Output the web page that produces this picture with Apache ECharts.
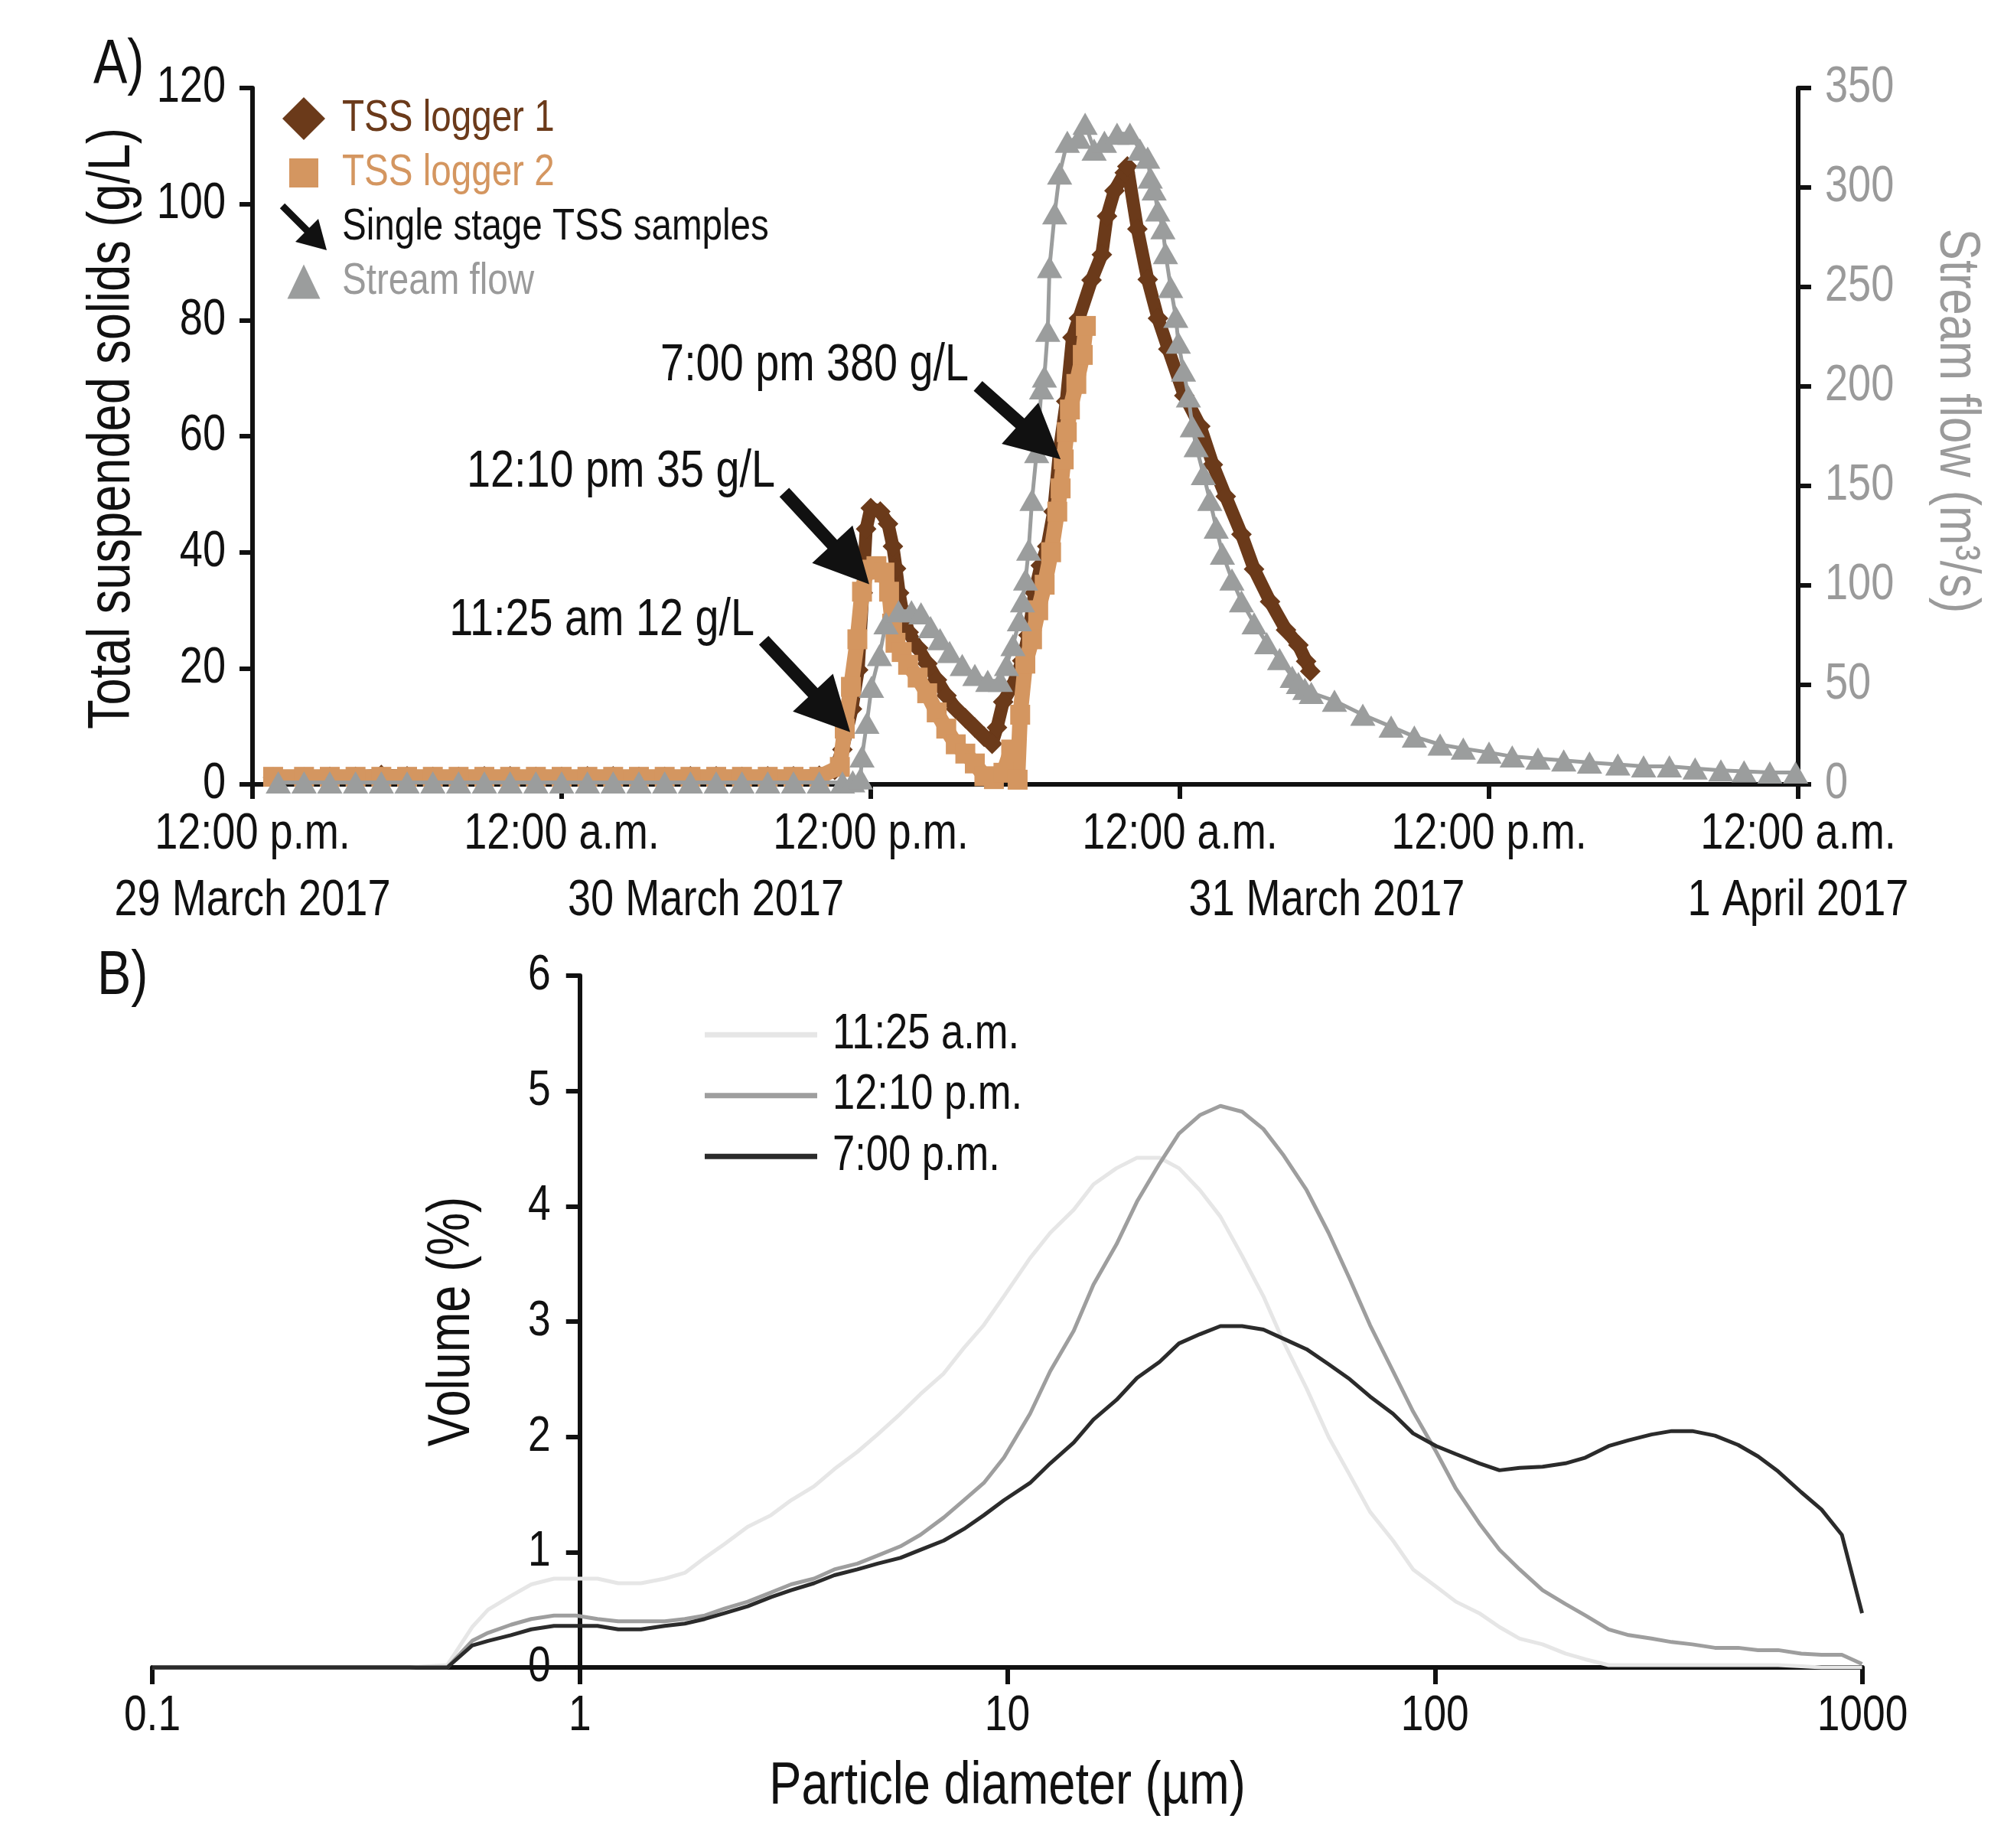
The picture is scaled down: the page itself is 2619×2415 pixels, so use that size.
<!DOCTYPE html>
<html><head><meta charset="utf-8">
<script src="https://cdn.jsdelivr.net/npm/echarts@6/dist/echarts.min.js"></script>
<style>html,body{margin:0;padding:0;background:#fff;}#chart{width:2619px;height:2415px;}</style>
</head><body><div id="chart"></div>
<script>
// ---------------- Panel A data (hours after 12:00 p.m. 29 March 2017) ----------------
const timeTickLabels = ['12:00 p.m.', '12:00 a.m.', '12:00 p.m.', '12:00 a.m.', '12:00 p.m.', '12:00 a.m.'];
const dateLabels = ['29 March 2017', '30 March 2017', '31 March 2017', '1 April 2017'];
const dateLabelHours = [0, 17.6, 41.7, 60];

const logger1Hours = [0.8, 2, 3, 4, 5, 6, 7, 8, 9, 10, 11, 12, 13, 14, 15, 16, 17, 18, 19, 20, 21, 22,
  22.6, 22.9, 23.27, 23.51, 23.69, 23.82, 24.0,
  24.37, 24.67, 24.86, 24.98, 25.1, 25.22, 25.47, 25.84, 26.2, 26.57,
  26.94, 27.3, 27.67, 28.04, 28.4, 28.71, 28.9, 29.14, 29.5, 29.88,
  30.12, 30.36, 30.6, 30.85, 31.1, 31.34, 31.59, 31.83, 32.08, 32.57,
  32.97, 33.17, 33.46, 33.86, 33.96, 34.35, 34.75, 35.15, 35.55, 36.17,
  36.79, 37.28, 37.78, 38.39, 38.88, 39.5, 40.12, 40.6, 40.9, 41.06];
const logger1TSS = [1.2, 1.2, 1.3, 1.3, 1.6, 1.4, 1.3, 1.3, 1.4, 1.4, 1.3, 1.3, 1.4, 1.4, 1.3, 1.3, 1.4, 1.4, 1.3, 1.4, 1.4, 1.5,
  2.5, 6, 13, 19.7, 33, 44, 47.6,
  47, 44.9, 41, 37.2, 33, 30, 26.2, 23.5, 20.8, 18,
  15.3, 13, 11.4, 9.8, 8.2, 7, 9.8, 14.2, 17, 21.3,
  25.7, 33, 37.7, 41, 47, 58, 66, 77, 80.3, 86.9,
  91.3, 97.9, 102.3, 105.4, 106.5, 95.7, 87, 80.3, 75, 67,
  61.7, 55.1, 49.6, 43.1, 37.1, 31.5, 26.6, 24, 21.2, 19.5];

const logger2Hours = [0.8, 2, 3, 4, 5, 6, 7, 8, 9, 10, 11, 12, 13, 14, 15, 16, 17, 18, 19, 20, 21, 22,
  22.8, 22.99, 23.23, 23.48, 23.66, 23.85, 24.22, 24.53, 24.71, 24.83,
  24.96, 25.2, 25.45, 25.82, 26.19, 26.56, 26.93, 27.3, 27.67, 28.04,
  28.41, 28.78, 29.15, 29.45, 29.7, 29.8, 30.0, 30.26, 30.5, 30.75,
  31.0, 31.24, 31.37, 31.49, 31.61, 31.73, 31.98, 32.23, 32.35];
const logger2TSS = [1.3, 1.3, 1.3, 1.3, 1.3, 1.3, 1.3, 1.3, 1.3, 1.3, 1.3, 1.3, 1.3, 1.3, 1.3, 1.3, 1.3, 1.3, 1.3, 1.3, 1.3, 1.3,
  3, 9.6, 16.8, 25, 33.2, 37, 37.6, 36.5, 33.2, 27.7,
  24.4, 22.8, 20.6, 18.4, 15.7, 12.4, 9.6, 6.9, 5.3, 3.6,
  1.4, 0.9, 2.0, 6, 0.8, 12, 20.8, 25, 30, 34.4,
  40, 47, 51, 56, 60.7, 64.6, 69, 74, 79];

const flowHours = [1, 2, 3, 4, 5, 6, 7, 8, 9, 10, 11, 12, 13, 14, 15, 16, 17, 18, 19, 20, 21, 22,
  22.9, 23.3, 23.6, 23.66, 23.85, 24.03, 24.34, 24.59, 25.08, 25.58,
  25.95, 26.32, 26.69, 27.06, 27.55, 28.04, 28.54, 29.03, 29.27, 29.52,
  29.77, 29.89, 30.01, 30.13, 30.26, 30.44, 30.63, 30.74, 30.87, 30.94,
  31.14, 31.33, 31.63, 32.08, 32.32, 32.67, 33.07, 33.56, 34.06, 34.45,
  34.75, 34.85, 35.0, 35.14, 35.34, 35.44, 35.64, 35.84, 35.94, 36.14,
  36.33, 36.48, 36.63, 36.91, 37.16, 37.41, 37.65, 38.02, 38.39, 38.88,
  39.37, 39.87, 40.36, 40.6, 40.85, 41.1, 42.0, 43.1, 44.2, 45.1,
  46.1, 47.0, 48.0, 48.9, 49.9, 50.9, 51.9, 53.0, 54.0, 55.0,
  56.0, 57.0, 57.9, 58.9, 59.9];
const flowValues = [1, 1, 1, 1, 1, 1, 1, 1, 1, 1, 1, 1, 1, 1, 1, 1, 1, 1, 1, 1, 1, 1,
  1, 1.5, 3, 14, 31, 49, 65, 81, 87, 87,
  86, 79, 73, 66.5, 60, 55, 52, 52, 60, 70,
  82.5, 92, 103, 118, 143, 167, 199, 205, 228, 260,
  287, 307, 323, 325, 332, 319, 323, 327, 327, 319,
  315, 305, 299, 288.5, 279.5, 267, 250, 235, 222, 208,
  195, 180, 170, 156, 143, 129, 116, 103, 92, 81,
  71, 63, 54, 51, 48, 46, 42, 35, 29, 24,
  20, 18, 16, 14, 13, 12, 11, 10, 9, 9,
  8, 7, 6.5, 6, 6];

const sampleLabels = ['11:25 am 12 g/L', '12:10 pm 35 g/L', '7:00 pm 380 g/L'];
const sampleHours = [23.2, 23.94, 31.37];
const sampleTSS = [9, 34.5, 56];

// ---------------- Panel B data ----------------
const particleDiameters = [0.1, 0.2, 0.3, 0.4, 0.49, 0.56, 0.61, 0.69, 0.77, 0.87,
  0.98, 1.1, 1.23, 1.39, 1.58, 1.76, 1.96, 2.18, 2.47, 2.8,
  3.12, 3.53, 3.94, 4.46, 4.97, 5.62, 6.26, 7.1, 7.91, 8.81,
  9.82, 11.3, 12.6, 14.3, 15.9, 18.0, 20.1, 22.7, 25.2, 28.2,
  31.5, 35.4, 39.7, 44.3, 50.1, 56.4, 63.2, 70.5, 79.8, 88.9,
  100.7, 112, 127, 141.6, 157.8, 178.6, 202, 225, 255, 284,
  321, 358, 400, 452, 512, 570, 635, 719, 802, 895, 998];
const volume1125 = [0, 0, 0, 0, 0.02, 0.35, 0.5, 0.62, 0.72, 0.77,
  0.77, 0.77, 0.73, 0.73, 0.77, 0.82, 0.95, 1.07, 1.22, 1.32,
  1.45, 1.57, 1.72, 1.87, 2.02, 2.2, 2.37, 2.55, 2.77, 2.97,
  3.22, 3.55, 3.77, 3.97, 4.19, 4.33, 4.42, 4.42, 4.33, 4.14,
  3.91, 3.57, 3.22, 2.82, 2.42, 2.0, 1.67, 1.35, 1.1, 0.85,
  0.70, 0.57, 0.47, 0.35, 0.25, 0.2, 0.12, 0.07, 0.02, 0.02,
  0.02, 0.02, 0.02, 0.02, 0.02, 0.02, 0.02, 0.01, 0, 0, 0];
const volume1210 = [0, 0, 0, 0, 0, 0.23, 0.3, 0.37, 0.42, 0.45,
  0.45, 0.42, 0.4, 0.4, 0.4, 0.42, 0.45, 0.51, 0.57, 0.65,
  0.72, 0.77, 0.85, 0.9, 0.97, 1.05, 1.15, 1.3, 1.45, 1.6,
  1.82, 2.2, 2.57, 2.92, 3.32, 3.67, 4.04, 4.37, 4.63, 4.79,
  4.87, 4.82, 4.67, 4.44, 4.14, 3.77, 3.37, 2.97, 2.57, 2.22,
  1.87, 1.55, 1.25, 1.02, 0.85, 0.67, 0.55, 0.45, 0.33, 0.28,
  0.25, 0.22, 0.2, 0.17, 0.17, 0.15, 0.15, 0.12, 0.11, 0.11, 0.03];
const volume1900 = [0, 0, 0, 0, 0, 0.19, 0.23, 0.28, 0.33, 0.36,
  0.36, 0.36, 0.33, 0.33, 0.36, 0.38, 0.42, 0.47, 0.53, 0.61,
  0.67, 0.73, 0.8, 0.85, 0.9, 0.95, 1.02, 1.1, 1.2, 1.32,
  1.45, 1.6, 1.77, 1.95, 2.15, 2.32, 2.51, 2.65, 2.81, 2.89,
  2.96, 2.96, 2.93, 2.85, 2.76, 2.63, 2.5, 2.35, 2.2, 2.03,
  1.92, 1.85, 1.77, 1.71, 1.73, 1.74, 1.77, 1.82, 1.92, 1.97,
  2.02, 2.05, 2.05, 2.01, 1.93, 1.83, 1.7, 1.52, 1.37, 1.15, 0.47];
const diameterTickLabels = ['0.1', '1', '10', '100', '1000'];

// ---------------- condensed text emulation (reference uses a narrow sans font) ----------------
const TEXT_SX = 0.82;
(function () {
  const proto = CanvasRenderingContext2D.prototype;
  const oFill = proto.fillText, oStroke = proto.strokeText, oMeasure = proto.measureText;
  function wrap(orig) {
    return function (t, x, y, maxW) {
      this.save();
      this.translate(x, y);
      this.scale(TEXT_SX, 1);
      if (maxW !== undefined) orig.call(this, t, 0, 0, maxW / TEXT_SX); else orig.call(this, t, 0, 0);
      this.restore();
    };
  }
  proto.fillText = wrap(oFill);
  proto.strokeText = wrap(oStroke);
  proto.measureText = function (t) {
    const m = oMeasure.call(this, t);
    return {
      width: m.width * TEXT_SX,
      actualBoundingBoxLeft: m.actualBoundingBoxLeft * TEXT_SX,
      actualBoundingBoxRight: m.actualBoundingBoxRight * TEXT_SX,
      actualBoundingBoxAscent: m.actualBoundingBoxAscent,
      actualBoundingBoxDescent: m.actualBoundingBoxDescent,
      fontBoundingBoxAscent: m.fontBoundingBoxAscent,
      fontBoundingBoxDescent: m.fontBoundingBoxDescent
    };
  };
})();

// ---------------- styling / layout ----------------
const FONT = "'Liberation Sans', Arial, sans-serif";
const BLACK = '#111111', BROWN = '#6b3a1a', TAN = '#d49660', FLOWGRAY = '#9b9d9d', TEXTGRAY = '#9a9a9a';
const GA = {left: 330, top: 115, width: 2020, height: 910};
const GB = {left: 199, top: 1275, width: 2235, height: 904};
const arrowOffsets = [[-113, -120], [-111, -120], [-108, -96]];

const zip = (xs, ys) => xs.map((x, i) => [x, ys[i]]);
const pin = 'M0,0L0,0M64,64L64,64';
const ICON_DIAMOND = 'path://' + pin + 'M32,4L60,32L32,60L4,32Z';
const ICON_SQUARE = 'path://' + pin + 'M13,13L51,13L51,51L13,51Z';
const ICON_TRIANGLE = 'path://' + pin + 'M32,9.5L53.5,54.5L10.5,54.5Z';
const ICON_ARROW = 'path://' + pin + 'M0.8,7.2L7.2,0.8L41.2,34.8L34.8,41.2ZM62,62L21,51L51,21Z';

const chart = echarts.init(document.getElementById('chart'));

function renderArrow(params, api) {
  const tip = api.coord([api.value(0), api.value(1)]);
  const off = arrowOffsets[params.dataIndex];
  const tail = [tip[0] + off[0], tip[1] + off[1]];
  const dx = tip[0] - tail[0], dy = tip[1] - tail[1];
  const len = Math.hypot(dx, dy);
  const ux = dx / len, uy = dy / len, px = -uy, py = ux;
  const headLen = 71, headHalf = 36, shaftHalf = 8.5;
  const bx = tip[0] - ux * headLen, by = tip[1] - uy * headLen;
  const pts = [
    [tail[0] + px * shaftHalf, tail[1] + py * shaftHalf],
    [bx + px * shaftHalf, by + py * shaftHalf],
    [bx + px * headHalf, by + py * headHalf],
    [tip[0], tip[1]],
    [bx - px * headHalf, by - py * headHalf],
    [bx - px * shaftHalf, by - py * shaftHalf],
    [tail[0] - px * shaftHalf, tail[1] - py * shaftHalf]
  ];
  return {
    type: 'group',
    children: [
      {type: 'polygon', shape: {points: pts}, style: {fill: BLACK}},
      {type: 'text', style: {text: sampleLabels[params.dataIndex], x: tail[0] - 12, y: tail[1] - 26,
        align: 'right', verticalAlign: 'middle', fontSize: 68, fontFamily: FONT, fill: BLACK}}
    ]
  };
}

const axisLineStyle = {color: BLACK, width: 6};

const option = {
  backgroundColor: '#ffffff',
  animation: false,
  textStyle: {fontFamily: FONT},
  grid: [
    {left: GA.left, top: GA.top, width: GA.width, height: GA.height},
    {left: GB.left, top: GB.top, width: GB.width, height: GB.height}
  ],
  graphic: [
    {type: 'text', left: 122, top: 52, style: {text: 'A)', fontSize: 81, fontFamily: FONT, fill: BLACK}},
    {type: 'text', left: 127, top: 1243, style: {text: 'B)', fontSize: 81, fontFamily: FONT, fill: BLACK}}
  ],
  legend: [
    {
      orient: 'vertical', left: 360, top: 118, itemWidth: 64, itemHeight: 64, itemGap: 7,
      selectedMode: false,
      textStyle: {fontSize: 58, fontFamily: FONT, padding: [0, 0, 0, 13]},
      data: [
        {name: 'TSS logger 1', icon: ICON_DIAMOND, textStyle: {color: BROWN}},
        {name: 'TSS logger 2', icon: ICON_SQUARE, textStyle: {color: TAN}},
        {name: 'Single stage TSS samples', icon: ICON_ARROW, textStyle: {color: BLACK}},
        {name: 'Stream flow', icon: ICON_TRIANGLE, textStyle: {color: TEXTGRAY}}
      ]
    },
    {
      orient: 'vertical', left: 916, top: 1321, itemWidth: 147, itemHeight: 7, itemGap: 27,
      selectedMode: false,
      textStyle: {fontSize: 64, fontFamily: FONT, color: BLACK, padding: [0, 0, 0, 15]},
      data: [
        {name: '11:25 a.m.', icon: 'rect'},
        {name: '12:10 p.m.', icon: 'rect'},
        {name: '7:00 p.m.', icon: 'rect'}
      ]
    }
  ],
  xAxis: [
    {
      gridIndex: 0, type: 'value', min: 0, max: 60, interval: 12,
      axisLine: {show: true, onZero: false, lineStyle: axisLineStyle},
      axisTick: {show: true, length: 19, lineStyle: axisLineStyle},
      axisLabel: {margin: 39, fontSize: 66, color: BLACK, formatter: v => timeTickLabels[Math.round(v / 12)] || ''},
      splitLine: {show: false}
    },
    {
      gridIndex: 0, type: 'value', position: 'bottom', min: 0, max: 60,
      axisLine: {show: false, onZero: false}, axisTick: {show: false}, splitLine: {show: false},
      axisLabel: {margin: 126, fontSize: 66, color: BLACK, customValues: dateLabelHours,
        formatter: v => { const i = dateLabelHours.indexOf(v); return i >= 0 ? dateLabels[i] : ''; }}
    },
    {
      gridIndex: 1, type: 'log', logBase: 10, min: 0.1, max: 1000,
      name: 'Particle diameter (µm)', nameLocation: 'middle', nameGap: 125,
      nameTextStyle: {fontSize: 77, color: BLACK, fontFamily: FONT},
      axisLine: {show: true, onZero: false, lineStyle: axisLineStyle},
      axisTick: {show: true, length: 22, lineStyle: axisLineStyle},
      axisLabel: {margin: 37, fontSize: 65, color: BLACK, formatter: v => diameterTickLabels[Math.round(Math.log10(v)) + 1] || ''},
      splitLine: {show: false}, minorTick: {show: false}
    }
  ],
  yAxis: [
    {
      gridIndex: 0, type: 'value', min: 0, max: 120, interval: 20,
      name: 'Total suspended solids (g/L)', nameLocation: 'middle', nameGap: 151,
      nameTextStyle: {fontSize: 77, color: BLACK, fontFamily: FONT, padding: [0, 0, 0, 20]},
      axisLine: {show: true, onZero: false, lineStyle: axisLineStyle},
      axisTick: {show: true, length: 17, lineStyle: axisLineStyle},
      axisLabel: {margin: 35, fontSize: 66, color: BLACK, padding: [0, 0, 16, 0]},
      splitLine: {show: false}
    },
    {
      gridIndex: 0, type: 'value', position: 'right', min: 0, max: 350, interval: 50,
      name: 'Stream flow (m³/s)', nameLocation: 'middle', nameRotate: -90, nameGap: 176,
      nameTextStyle: {fontSize: 75, color: TEXTGRAY, fontFamily: FONT, padding: [0, 40, 0, 0]},
      axisLine: {show: true, onZero: false, lineStyle: axisLineStyle},
      axisTick: {show: true, length: 17, lineStyle: axisLineStyle},
      axisLabel: {margin: 35, fontSize: 66, color: TEXTGRAY, padding: [0, 0, 16, 0]},
      splitLine: {show: false}
    },
    {
      gridIndex: 1, type: 'value', min: 0, max: 6, interval: 1, offset: -GB.width / 4,
      name: 'Volume (%)', nameLocation: 'middle', nameGap: 134,
      nameTextStyle: {fontSize: 77, color: BLACK, fontFamily: FONT},
      axisLine: {show: true, onZero: false, lineStyle: axisLineStyle},
      axisTick: {show: true, length: 18, lineStyle: axisLineStyle},
      axisLabel: {margin: 38, fontSize: 65, color: BLACK, padding: [16, 0, 0, 0]},
      splitLine: {show: false}
    }
  ],
  series: [
    {
      name: 'TSS logger 1', type: 'line', xAxisIndex: 0, yAxisIndex: 0, z: 2, clip: false,
      data: zip(logger1Hours, logger1TSS), symbol: 'diamond', symbolSize: 27, showAllSymbol: true,
      itemStyle: {color: BROWN}, lineStyle: {color: BROWN, width: 17}
    },
    {
      name: 'TSS logger 2', type: 'line', xAxisIndex: 0, yAxisIndex: 0, z: 3, clip: false,
      data: zip(logger2Hours, logger2TSS), symbol: 'rect', symbolSize: 26, showAllSymbol: true,
      itemStyle: {color: TAN}, lineStyle: {color: TAN, width: 20}
    },
    {
      name: 'Stream flow', type: 'line', xAxisIndex: 0, yAxisIndex: 1, z: 4, clip: false,
      data: zip(flowHours, flowValues), symbol: 'triangle', symbolSize: [33, 29], showAllSymbol: true,
      itemStyle: {color: FLOWGRAY}, lineStyle: {color: FLOWGRAY, width: 5}
    },
    {
      name: 'Single stage TSS samples', type: 'custom', xAxisIndex: 0, yAxisIndex: 0, z: 6,
      data: zip(sampleHours, sampleTSS), encode: {x: 0, y: 1},
      itemStyle: {color: BLACK}, renderItem: renderArrow
    },
    {
      name: '11:25 a.m.', type: 'line', xAxisIndex: 2, yAxisIndex: 2, z: 2, symbol: 'none',
      data: zip(particleDiameters, volume1125), itemStyle: {color: '#e6e6e6'}, lineStyle: {color: '#e6e6e6', width: 5}
    },
    {
      name: '12:10 p.m.', type: 'line', xAxisIndex: 2, yAxisIndex: 2, z: 3, symbol: 'none',
      data: zip(particleDiameters, volume1210), itemStyle: {color: '#9e9e9e'}, lineStyle: {color: '#9e9e9e', width: 5}
    },
    {
      name: '7:00 p.m.', type: 'line', xAxisIndex: 2, yAxisIndex: 2, z: 4, symbol: 'none',
      data: zip(particleDiameters, volume1900), itemStyle: {color: '#2b2b2b'}, lineStyle: {color: '#2b2b2b', width: 5}
    }
  ]
};
chart.setOption(option);
</script>
</body></html>
